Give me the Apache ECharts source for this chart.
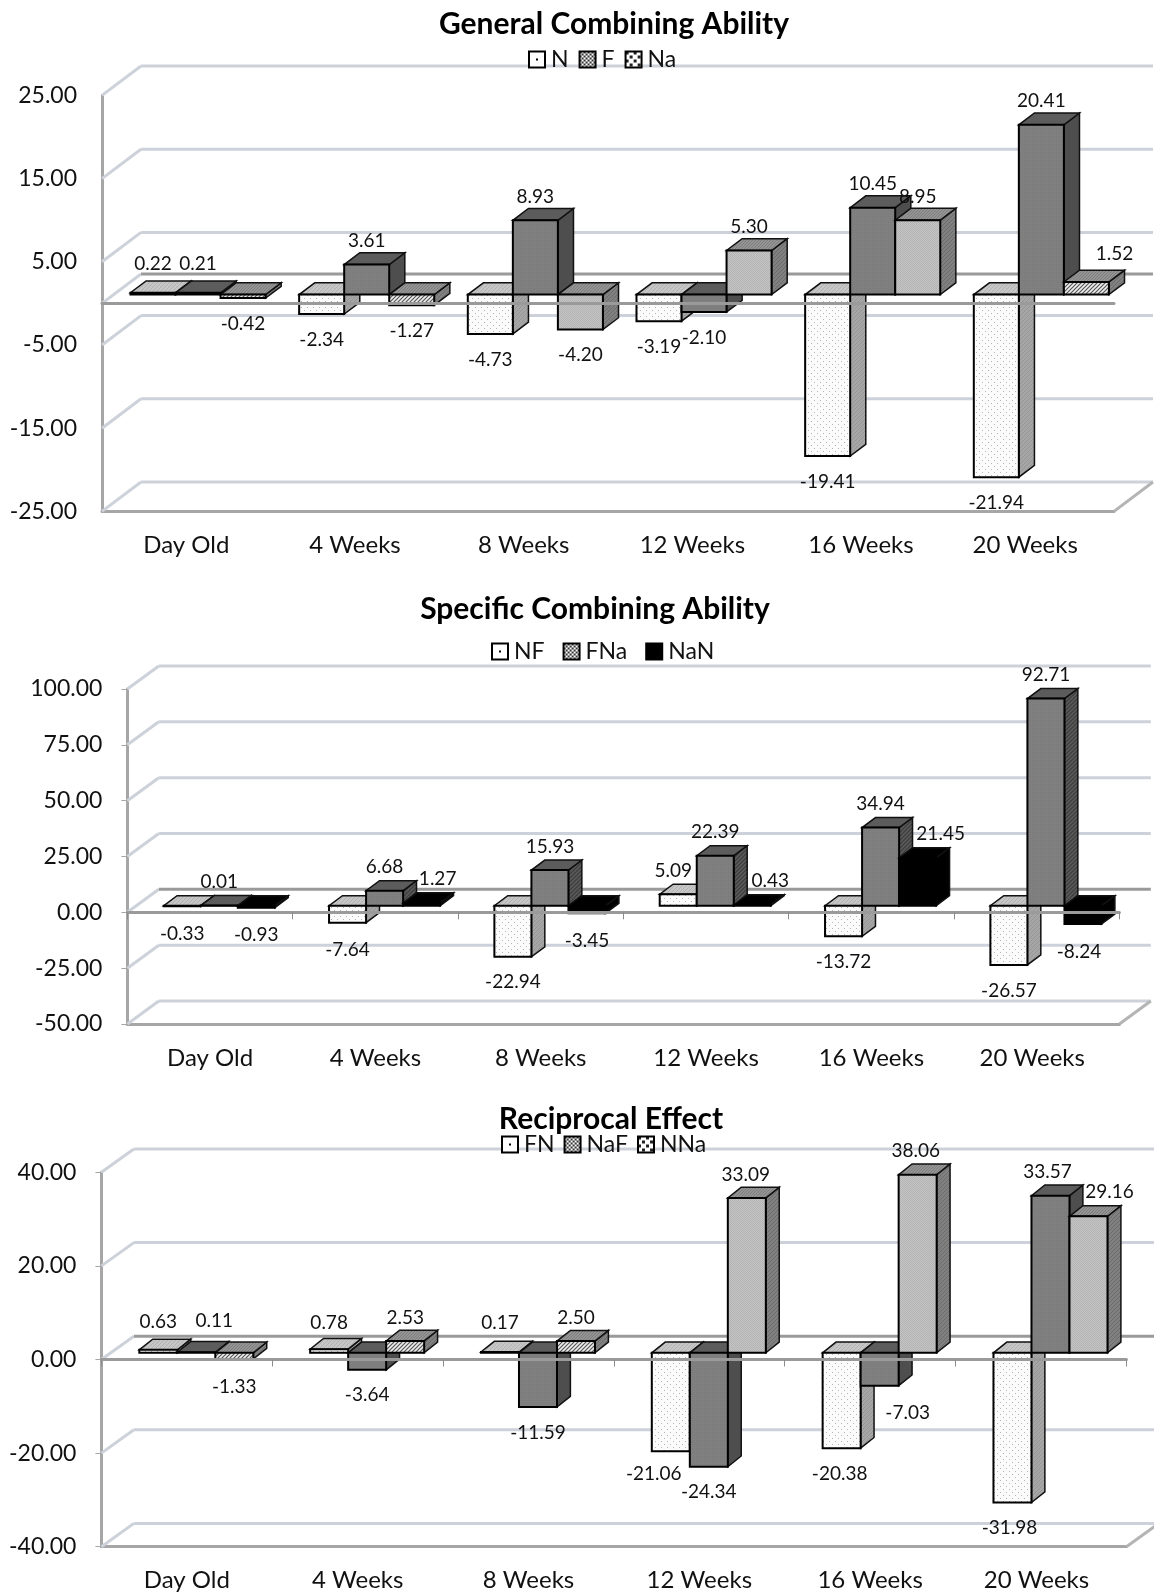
<!DOCTYPE html>
<html>
<head>
<meta charset="utf-8">
<title>Combining ability</title>
<style>
  html, body { margin: 0; padding: 0; background: #fff; }
  #chart { width: 1154px; height: 1595px; }
</style>
<script src="https://cdn.jsdelivr.net/npm/echarts@6/dist/echarts.min.js"></script>
</head>
<body>
<div id="chart"></div>
<script>
const categories = ['Day Old', '4 Weeks', '8 Weeks', '12 Weeks', '16 Weeks', '20 Weeks']

const generalTicks = [25, 15, 5, -5, -15, -25]
const generalN = [0.22, -2.34, -4.73, -3.19, -19.41, -21.94]
const generalF = [0.21, 3.61, 8.93, -2.10, 10.45, 20.41]
const generalNa = [-0.42, -1.27, -4.20, 5.30, 8.95, 1.52]

const specificTicks = [100, 75, 50, 25, 0, -25, -50]
const specificNF = [-0.33, -7.64, -22.94, 5.09, -13.72, -26.57]
const specificFNa = [0.01, 6.68, 15.93, 22.39, 34.94, 92.71]
const specificNaN = [-0.93, 1.27, -3.45, 0.43, 21.45, -8.24]

const reciprocalTicks = [40, 20, 0, -20, -40]
const reciprocalFN = [0.63, 0.78, 0.17, -21.06, -20.38, -31.98]
const reciprocalNaF = [0.11, -3.64, -11.59, -24.34, -7.03, 33.57]
const reciprocalNNa = [-1.33, 2.53, 2.50, 33.09, 38.06, 29.16]

const FONT = 'Lato'

function makePattern(size, draw) {
  const canvas = document.createElement('canvas')
  canvas.width = size
  canvas.height = size
  draw(canvas.getContext('2d'))
  return { image: canvas, repeat: 'repeat' }
}

function stripes(size, back, line, width) {
  return makePattern(size, ctx => {
    ctx.fillStyle = back
    ctx.fillRect(0, 0, size, size)
    ctx.strokeStyle = line
    ctx.lineWidth = width
    ctx.beginPath()
    ctx.moveTo(-1, size + 1); ctx.lineTo(size + 1, -1)
    ctx.moveTo(-1, 1); ctx.lineTo(1, -1)
    ctx.moveTo(size - 1, size + 1); ctx.lineTo(size + 1, size - 1)
    ctx.stroke()
  })
}

// bar face patterns
const dotted = makePattern(6, ctx => {
  ctx.fillStyle = '#fbfbfb'
  ctx.fillRect(0, 0, 6, 6)
  ctx.fillStyle = '#b4b4b4'
  ctx.fillRect(1, 1, 1, 1)
  ctx.fillRect(4, 4, 1, 1)
})
const darkFine = makePattern(2, ctx => {
  ctx.fillStyle = '#808080'
  ctx.fillRect(0, 0, 2, 2)
  ctx.fillStyle = '#7a7a7a'
  ctx.fillRect(0, 0, 1, 1)
})
const lightFine = makePattern(2, ctx => {
  ctx.fillStyle = '#c4c4c4'
  ctx.fillRect(0, 0, 2, 2)
  ctx.fillStyle = '#b4b4b4'
  ctx.fillRect(0, 0, 1, 1)
  ctx.fillRect(1, 1, 1, 1)
})
const hatched = stripes(4, '#eeeeee', '#555', 1.2)

// legend swatches
const legendDot = makePattern(16, ctx => {
  ctx.fillStyle = '#fff'
  ctx.fillRect(0, 0, 16, 16)
  ctx.fillStyle = '#000'
  ctx.fillRect(7, 7, 2, 2)
})
const legendChecker = makePattern(4, ctx => {
  ctx.fillStyle = '#fff'
  ctx.fillRect(0, 0, 4, 4)
  ctx.fillStyle = '#333'
  ctx.fillRect(0, 0, 2, 2)
  ctx.fillRect(2, 2, 2, 2)
})
const legendDiag = makePattern(8, ctx => {
  ctx.fillStyle = '#fff'
  ctx.fillRect(0, 0, 8, 8)
  ctx.fillStyle = '#222'
  ctx.fillRect(0, 0, 3, 3)
  ctx.fillRect(4, 4, 3, 3)
})

const styleN = { front: dotted, top: stripes(4, '#c6c6c6', '#b2b2b2', 1), side: stripes(4, '#a6a6a6', '#969696', 1), legend: legendDot }
const styleF = { front: darkFine, top: '#5c5c5c', side: '#4e4e4e', legend: legendChecker }
const styleFStriped = { front: darkFine, top: '#5c5c5c', side: stripes(4, '#5a5a5a', '#3c3c3c', 1.2), legend: legendChecker }
const styleNa = { front: lightFine, small: hatched, top: stripes(3, '#949494', '#7e7e7e', 1), side: stripes(4, '#808080', '#6c6c6c', 1), legend: legendDiag }
const styleBlack = { front: '#000', top: '#000', side: '#000', legend: '#000' }

// nudges of the hand-placed value labels: 'series,category': [dx, dy]
const generalNudge = { '0,0': [0, -5], '1,0': [0, -5], '2,5': [28, -5] }
const specificNudge = {
  '0,0': [0, 2], '2,0': [0, 2], '0,1': [0, 2], '2,1': [16, 0], '2,2': [0, 2],
  '0,3': [-5, 0], '2,3': [18, 0], '2,4': [23, 0], '2,5': [-4, 2]
}
const reciprocalNudge = {
  '0,0': [0, -4], '1,0': [18, -8], '2,0': [0, 2], '0,1': [0, -3], '0,2': [0, -6],
  '0,3': [-17, -3], '0,4': [-2, 0], '1,4': [28, 2], '2,3': [-1, 0], '2,4': [-2, 0],
  '0,5': [-3, 0], '1,5': [-3, 0], '2,5': [21, -1]
}

const charts = [
  {
    title: 'General Combining Ability', titleX: 614, titleY: 9,
    names: ['N', 'F', 'Na'], values: [generalN, generalF, generalNa], styles: [styleN, styleF, styleNa],
    ticks: generalTicks, min: -25, max: 25, interval: 5, nudge: generalNudge,
    legendLeft: 528, legendTop: 48, legendGap: 10,
    grid: { left: 102, top: 95.4, width: 1012, height: 416 },
    depth: [39, 29.4], inset: [11.7, 8.8], barDepth: [15.6, 11.8], barFrac: 0.267, tickLen: 0
  },
  {
    title: 'Specific Combining Ability', titleX: 595, titleY: 594.5,
    names: ['NF', 'FNa', 'NaN'], values: [specificNF, specificFNa, specificNaN], styles: [styleN, styleFStriped, styleBlack],
    ticks: specificTicks, min: -50, max: 100, interval: 25, nudge: specificNudge,
    legendLeft: 491, legendTop: 640, legendGap: 18,
    grid: { left: 127.4, top: 689, width: 992, height: 335 },
    depth: [31.4, 23], inset: [9.2, 6.7], barDepth: [13.4, 10], barFrac: 0.224, tickLen: 7
  },
  {
    title: 'Reciprocal Effect', titleX: 611, titleY: 1104.5,
    names: ['FN', 'NaF', 'NNa'], values: [reciprocalFN, reciprocalNaF, reciprocalNNa], styles: [styleN, styleF, styleNa],
    ticks: reciprocalTicks, min: -40, max: 40, interval: 20, nudge: reciprocalNudge,
    legendLeft: 501, legendTop: 1133, legendGap: 9,
    grid: { left: 101.4, top: 1172.3, width: 1025, height: 374.4 },
    depth: [32.5, 23.3], inset: [9.5, 6.7], barDepth: [13.4, 10.7], barFrac: 0.2225, tickLen: 7
  }
]

function poly(points, fill, stroke, lineWidth) {
  return { type: 'polygon', shape: { points }, style: { fill, stroke, lineWidth, lineJoin: 'miter' } }
}

function barSeries(cfg, chartIdx, s) {
  const style = cfg.styles[s]
  return {
    type: 'custom',
    name: cfg.names[s],
    xAxisIndex: chartIdx * 2,
    yAxisIndex: chartIdx,
    z: 2,
    itemStyle: { color: style.legend },
    encode: { x: 0, y: 1 },
    data: cfg.values[s].map((v, i) => [i, v]),
    renderItem(params, api) {
      const cat = api.value(0)
      const val = api.value(1)
      const band = api.size([1, 0])[0]
      const w = band * cfg.barFrac
      const center = api.coord([cat, 0])
      const end = api.coord([cat, val])
      const x = center[0] + cfg.inset[0] + (s - 1.5) * w
      const y0 = Math.min(center[1], end[1]) - cfg.inset[1]
      const y1 = Math.max(center[1], end[1]) - cfg.inset[1]
      const dx = cfg.barDepth[0]
      const dy = cfg.barDepth[1]
      const front = style.small && Math.abs(val) < 3 ? style.small : style.front
      const nudge = cfg.nudge[s + ',' + cat] || [0, 0]
      return {
        type: 'group',
        children: [
          poly([[x + w, y0], [x + w + dx, y0 - dy], [x + w + dx, y1 - dy], [x + w, y1]], style.side, '#111', 1.5),
          poly([[x, y0], [x + w, y0], [x + w + dx, y0 - dy], [x + dx, y0 - dy]], style.top, '#111', 1.5),
          poly([[x, y0], [x + w, y0], [x + w, y1], [x, y1]], front, '#000', 2),
          {
            type: 'text',
            z2: 100,
            style: {
              text: val.toFixed(2),
              x: x + w / 2 + nudge[0],
              y: (val >= 0 ? y0 - 23.5 : y1 + 25.5) + nudge[1],
              align: 'center',
              verticalAlign: 'middle',
              fontFamily: FONT,
              fontSize: 19,
              fill: '#111'
            }
          }
        ]
      }
    }
  }
}

// back wall grid lines, their side-wall diagonals and the floor edge
function wallSeries(cfg, chartIdx) {
  const lines = cfg.ticks.includes(0) ? cfg.ticks : cfg.ticks.concat([0])
  return {
    type: 'custom',
    silent: true,
    xAxisIndex: chartIdx * 2,
    yAxisIndex: chartIdx,
    z: 1,
    encode: { x: 0, y: 1 },
    data: lines.map(v => [0, v]),
    renderItem(params, api) {
      const v = api.value(1)
      const y = api.coord([0, v])[1]
      const left = params.coordSys.x
      const right = left + params.coordSys.width
      const dx = cfg.depth[0]
      const dy = cfg.depth[1]
      const children = [
        {
          type: 'polyline',
          shape: { points: [[left, y], [left + dx, y - dy]] },
          style: { stroke: '#cdd1d9', lineWidth: 3, fill: null }
        },
        {
          type: 'polyline',
          shape: { points: [[left + dx, y - dy], [right + dx, y - dy]] },
          style: { stroke: v === 0 ? '#9a9a9a' : '#cdd1d9', lineWidth: 3, fill: null }
        }
      ]
      if (v === cfg.min) {
        children.push({
          type: 'polyline',
          shape: { points: [[right, y], [right + dx, y - dy]] },
          style: { stroke: '#b4b4b4', lineWidth: 3, fill: null }
        })
      }
      return { type: 'group', children }
    }
  }
}

const option = {
  animation: false,
  backgroundColor: '#fff',
  title: charts.map(c => ({
    text: c.title,
    left: c.titleX,
    top: c.titleY,
    padding: 0,
    textAlign: 'center',
    textStyle: { fontFamily: FONT, fontSize: 30, fontWeight: 'bold', color: '#000' }
  })),
  legend: charts.map(c => ({
    left: c.legendLeft,
    top: c.legendTop,
    padding: 0,
    itemWidth: 16,
    itemHeight: 16,
    itemGap: c.legendGap,
    selectedMode: false,
    textStyle: { fontFamily: FONT, fontSize: 23, color: '#111', padding: [0, 0, 0, 1] },
    data: c.names.map((name, s) => ({
      name,
      icon: 'rect',
      itemStyle: { color: c.styles[s].legend, borderColor: '#000', borderWidth: 2 }
    }))
  })),
  grid: charts.map(c => ({ left: c.grid.left, top: c.grid.top, width: c.grid.width, height: c.grid.height })),
  xAxis: charts.flatMap((c, i) => [
    {
      // floor, carries the category labels
      type: 'category',
      gridIndex: i,
      data: categories,
      position: 'bottom',
      axisLine: { onZero: false, lineStyle: { color: '#a6a6a6', width: 3 } },
      axisTick: { show: false },
      axisLabel: {
        fontFamily: FONT,
        fontSize: 24,
        color: '#111',
        margin: 22,
        interval: 0,
        // the last label sits a little left of its band in the source
        formatter: (v, idx) => (idx === categories.length - 1 ? '{last|' + v + '}' : v),
        rich: { last: { fontFamily: FONT, fontSize: 24, color: '#111', padding: [0, 9, 0, 0] } }
      }
    },
    {
      // zero line, runs over the bars
      type: 'category',
      gridIndex: i,
      data: categories,
      position: 'bottom',
      z: 5,
      axisLine: { onZero: true, lineStyle: { color: '#9a9a9a', width: 3 } },
      axisTick: { show: c.tickLen > 0, length: c.tickLen, lineStyle: { color: '#8c8c8c', width: 1 } },
      axisLabel: { show: false }
    }
  ]),
  yAxis: charts.map((c, i) => ({
    type: 'value',
    gridIndex: i,
    min: c.min,
    max: c.max,
    interval: c.interval,
    splitLine: { show: false },
    axisLine: { show: true, onZero: false, lineStyle: { color: '#a6a6a6', width: 3 } },
    axisTick: { show: c.tickLen > 0, length: 6, lineStyle: { color: '#a6a6a6', width: 1 } },
    axisLabel: {
      fontFamily: FONT,
      fontSize: 23,
      color: '#111',
      margin: 25,
      padding: [4, 0, 0, 0],
      formatter: v => (c.ticks.includes(v) ? v.toFixed(2) : '')
    }
  })),
  series: charts.flatMap((c, i) => [wallSeries(c, i)].concat(c.names.map((n, s) => barSeries(c, i, s))))
}

const chart = echarts.init(document.getElementById('chart'))
chart.setOption(option)
window.addEventListener('resize', () => chart.resize())
</script>
</body>
</html>
